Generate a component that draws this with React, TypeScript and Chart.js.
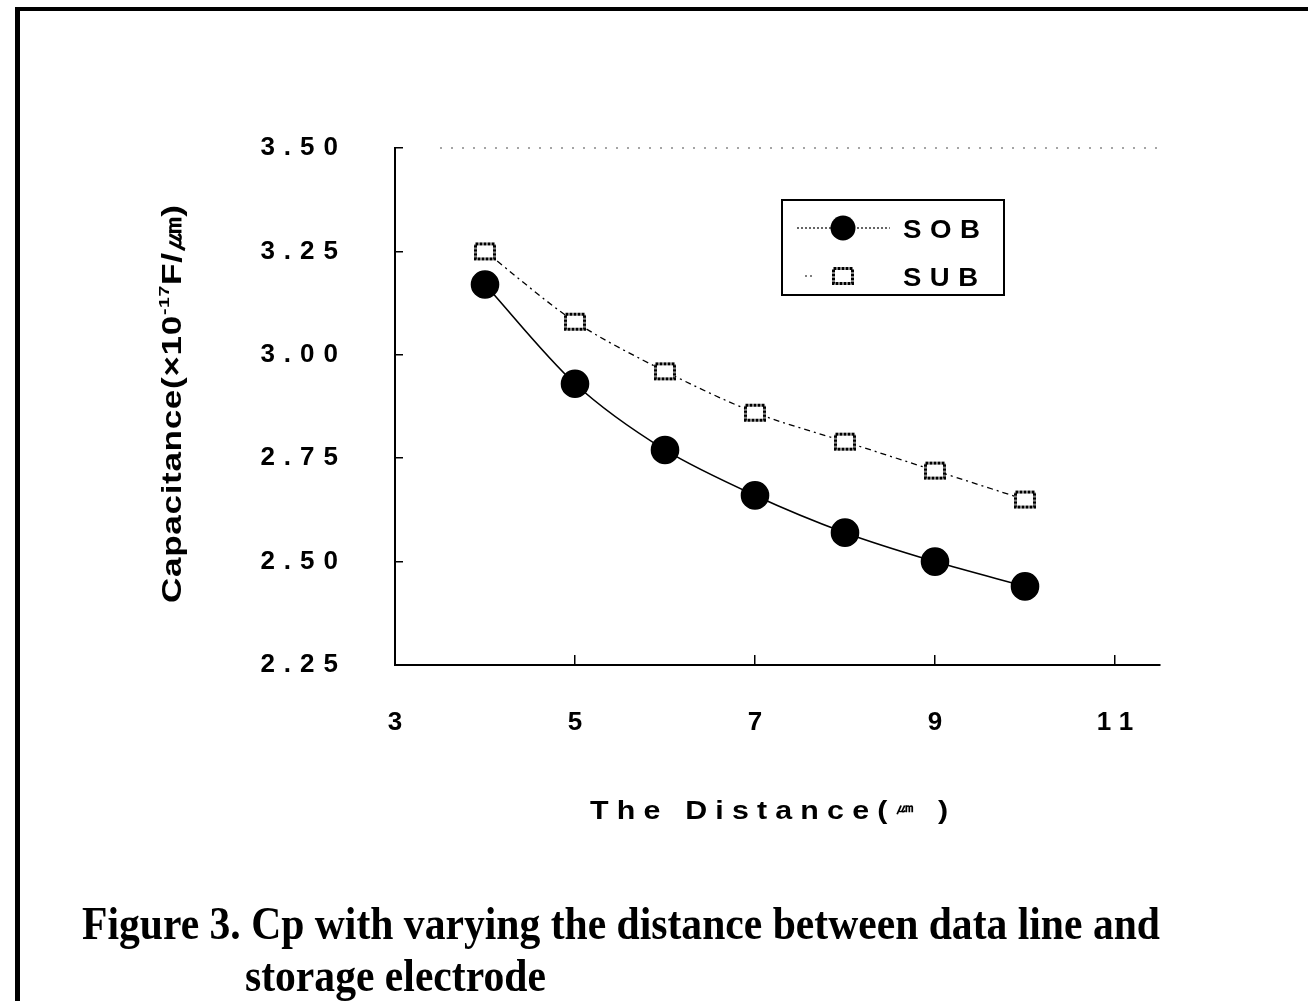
import React, { useEffect, useRef } from 'react';
import { Chart, registerables } from 'chart.js';

Chart.register(...registerables);

// ---------- data ----------
const distances = [4, 5, 6, 7, 8, 9, 10];
const sobValues = [3.17, 2.93, 2.77, 2.66, 2.57, 2.5, 2.44];
const subValues = [3.25, 3.08, 2.96, 2.86, 2.79, 2.72, 2.65];
const xTicks = [3, 5, 7, 9, 11];
const yTicks = [2.25, 2.5, 2.75, 3.0, 3.25, 3.5];
const seriesNames = ['SOB', 'SUB'];
const yTitleParts = ['Capacitance(×10', '-17', 'F/㎛)'];
const xTitleParts = ['The Distance(', '㎛', ' )'];
const captionLines = [
  'Figure 3. Cp with varying the distance between data line and',
  'storage electrode',
];

const SANS = '"Liberation Sans", Arial, Helvetica, sans-serif';
const SERIF = '"Liberation Serif", "Times New Roman", serif';

type Part = { t: string; font: string; dy: number };

function drawFitted(
  ctx: CanvasRenderingContext2D,
  parts: Part[],
  x: number,
  y: number,
  width: number,
  spacing: number
) {
  const c: any = ctx;
  ctx.save();
  c.letterSpacing = spacing + 'px';
  const widths = parts.map((p) => {
    ctx.font = p.font;
    return ctx.measureText(p.t).width;
  });
  const total = widths.reduce((a, b) => a + b, 0) - spacing;
  const k = width / total;
  ctx.translate(x, y);
  ctx.scale(k, 1);
  ctx.fillStyle = '#000';
  ctx.textBaseline = 'alphabetic';
  ctx.textAlign = 'left';
  let cx = 0;
  parts.forEach((p, i) => {
    ctx.font = p.font;
    ctx.fillText(p.t, cx, p.dy);
    cx += widths[i];
  });
  ctx.restore();
}

function makeSquare(): HTMLCanvasElement {
  const c = document.createElement('canvas');
  c.width = 26;
  c.height = 22;
  const g = c.getContext('2d')!;
  g.fillStyle = '#fff';
  g.fillRect(3, 3, 20, 16);
  g.strokeStyle = '#000';
  g.lineWidth = 3;
  g.setLineDash([3, 1]);
  g.strokeRect(3.5, 3.5, 19, 15);
  return c;
}

export default function App() {
  const ref = useRef<HTMLCanvasElement>(null);

  useEffect(() => {
    document.body.style.margin = '0';
    document.body.style.overflow = 'hidden';
    const canvas = ref.current!;
    const square = makeSquare();

    const decorPlugin = {
      id: 'decor',
      beforeDraw(chart: any) {
        const ctx = chart.ctx as CanvasRenderingContext2D;
        ctx.save();
        ctx.fillStyle = '#fff';
        ctx.fillRect(0, 0, chart.width, chart.height);
        ctx.restore();
        (ctx as any).letterSpacing = '9px';
      },
      beforeDatasetsDraw(chart: any) {
        (chart.ctx as any).letterSpacing = '0px';
      },
      afterDraw(chart: any) {
        const ctx = chart.ctx as CanvasRenderingContext2D;
        (ctx as any).letterSpacing = '0px';
        const area = chart.chartArea;
        const ds = chart.data.datasets;

        // outer frame
        ctx.save();
        ctx.strokeStyle = '#000';
        ctx.lineWidth = 5;
        ctx.beginPath();
        ctx.moveTo(17.5, 7);
        ctx.lineTo(17.5, 1001);
        ctx.stroke();
        ctx.lineWidth = 4;
        ctx.beginPath();
        ctx.moveTo(15, 9);
        ctx.lineTo(1308, 9);
        ctx.stroke();
        ctx.restore();

        // faint dotted top border of plot
        ctx.save();
        ctx.strokeStyle = '#888';
        ctx.lineWidth = 1.5;
        ctx.setLineDash([2, 9]);
        ctx.beginPath();
        ctx.moveTo(area.left + 45, area.top);
        ctx.lineTo(area.right, area.top);
        ctx.stroke();
        ctx.restore();

        // legend
        ctx.save();
        ctx.strokeStyle = '#000';
        ctx.lineWidth = 2;
        ctx.strokeRect(782, 200, 222, 95);
        // SOB row
        ctx.lineWidth = 1.2;
        ctx.setLineDash([2, 2]);
        ctx.beginPath();
        ctx.moveTo(797, 228);
        ctx.lineTo(890, 228);
        ctx.stroke();
        ctx.setLineDash([]);
        ctx.fillStyle = ds[0].pointBackgroundColor;
        ctx.beginPath();
        ctx.arc(843, 228, 12.5, 0, Math.PI * 2);
        ctx.fill();
        // SUB row
        ctx.setLineDash([2, 3]);
        ctx.beginPath();
        ctx.moveTo(805, 276);
        ctx.lineTo(815, 276);
        ctx.stroke();
        ctx.setLineDash([]);
        const img = ds[1].pointStyle as HTMLCanvasElement;
        ctx.drawImage(img, 843 - img.width / 2, 276 - img.height / 2);
        ctx.restore();
        const legFont = `bold 26px ${SANS}`;
        drawFitted(ctx, [{ t: seriesNames[0], font: legFont, dy: 0 }], 903, 238, 77, 8);
        drawFitted(ctx, [{ t: seriesNames[1], font: legFont, dy: 0 }], 903, 286, 75, 8);

        // y axis title (rotated)
        ctx.save();
        ctx.translate(181, 603);
        ctx.rotate(-Math.PI / 2);
        drawFitted(
          ctx,
          [
            { t: yTitleParts[0], font: `bold 27px ${SANS}`, dy: 0 },
            { t: yTitleParts[1], font: `bold 15px ${SANS}`, dy: -12 },
            { t: yTitleParts[2], font: `bold 27px ${SANS}`, dy: 0 },
          ],
          0,
          0,
          398,
          0.5
        );
        ctx.restore();

        // x axis title
        drawFitted(
          ctx,
          [
            { t: xTitleParts[0], font: `bold 26px ${SANS}`, dy: 0 },
            { t: xTitleParts[1], font: `bold 15px ${SANS}`, dy: -7 },
            { t: xTitleParts[2], font: `bold 26px ${SANS}`, dy: 0 },
          ],
          590,
          819,
          358,
          7
        );

        // caption
        ctx.save();
        ctx.font = `bold 47px ${SERIF}`;
        const w1 = ctx.measureText(captionLines[0]).width;
        const k = (1160 - 82) / w1;
        ctx.fillStyle = '#000';
        ctx.textBaseline = 'alphabetic';
        ctx.save();
        ctx.translate(82, 939);
        ctx.scale(k, 1);
        ctx.fillText(captionLines[0], 0, 0);
        ctx.restore();
        ctx.save();
        ctx.translate(245, 991);
        ctx.scale(k, 1);
        ctx.fillText(captionLines[1], 0, 0);
        ctx.restore();
        ctx.restore();
      },
    };

    const chart = new Chart(canvas, {
      type: 'line',
      data: {
        datasets: [
          {
            label: seriesNames[0],
            data: distances.map((d, i) => ({ x: d, y: sobValues[i] })),
            borderColor: '#000',
            borderWidth: 1.6,
            backgroundColor: '#000',
            pointBackgroundColor: '#000',
            pointBorderColor: '#000',
            pointRadius: 13.5,
            pointHoverRadius: 13.5,
            pointStyle: 'circle',
            tension: 0.3,
            fill: false,
          },
          {
            label: seriesNames[1],
            data: distances.map((d, i) => ({ x: d, y: subValues[i] })),
            borderColor: '#000',
            borderWidth: 1.3,
            borderDash: [6, 4, 2, 4],
            backgroundColor: '#fff',
            pointBackgroundColor: '#fff',
            pointBorderColor: '#000',
            pointRadius: 12,
            pointHoverRadius: 12,
            pointStyle: square as any,
            tension: 0.3,
            fill: false,
          },
        ],
      },
      options: {
        responsive: false,
        animation: false,
        devicePixelRatio: 1,
        events: [],
        layout: { padding: { left: 0, top: 148, right: 148, bottom: 0 } },
        plugins: {
          legend: { display: false },
          tooltip: { enabled: false },
          title: { display: false },
        },
        scales: {
          x: {
            type: 'linear',
            position: 'bottom',
            min: 3,
            max: 11.5,
            afterBuildTicks: (scale: any) => {
              scale.ticks = xTicks.map((v) => ({ value: v }));
            },
            afterFit: (scale: any) => {
              scale.height = 1001 - 665;
            },
            grid: {
              display: true,
              drawOnChartArea: false,
              drawTicks: true,
              tickLength: -10,
              color: '#000',
              lineWidth: 1.5,
            },
            border: { display: true, color: '#000', width: 2 },
            ticks: {
              color: '#000',
              font: { family: SANS, size: 26, weight: 'bold' },
              padding: 52,
              labelOffset: 4.5,
              maxRotation: 0,
              autoSkip: false,
              callback: (v: any) => String(v),
            },
          },
          y: {
            type: 'linear',
            position: 'left',
            min: 2.25,
            max: 3.5,
            afterBuildTicks: (scale: any) => {
              scale.ticks = yTicks.map((v) => ({ value: v }));
            },
            afterFit: (scale: any) => {
              scale.width = 395;
            },
            grid: {
              display: true,
              drawOnChartArea: false,
              drawTicks: true,
              tickLength: -8,
              color: '#000',
              lineWidth: 1.5,
            },
            border: { display: true, color: '#000', width: 2 },
            ticks: {
              color: '#000',
              font: { family: SANS, size: 26, weight: 'bold' },
              padding: 56,
              autoSkip: false,
              callback: (v: any) => Number(v).toFixed(2),
            },
          },
        },
      } as any,
      plugins: [decorPlugin],
    });

    return () => chart.destroy();
  }, []);

  return (
    <div style={{ position: 'absolute', left: 0, top: 0, width: 1308, height: 1001, background: '#fff' }}>
      <canvas ref={ref} width={1308} height={1001} style={{ display: 'block', width: 1308, height: 1001 }} />
    </div>
  );
}
